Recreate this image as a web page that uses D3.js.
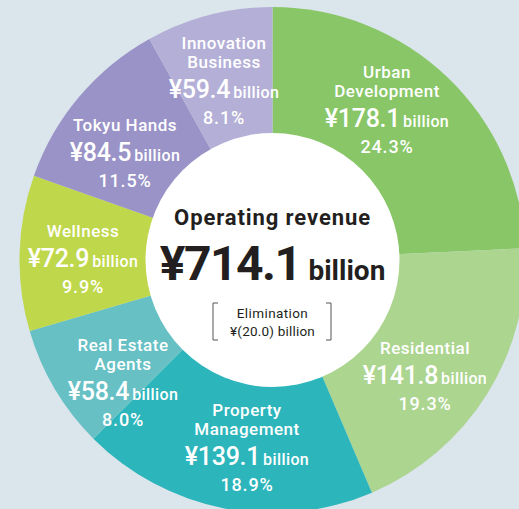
<!DOCTYPE html>
<html lang="en">
<head>
<meta charset="UTF-8">
<title>Operating revenue by segment</title>
<script src="https://d3js.org/d3.v7.min.js"></script>
<style>
    body { margin: 0; background: #dbe5ec; }
    svg { display: block; }
    .seg-label text { fill: #fff; font-family: Roboto, 'Noto Sans', sans-serif; font-weight: 500; text-anchor: middle; }
    .center text { fill: #231f20; font-family: Roboto, 'Noto Sans', sans-serif; text-anchor: middle; }
</style>
</head>
<body>
<script>
    // segments, clockwise from 12 o'clock
    const segments = ["Urban Development", "Residential", "Property Management", "Real Estate Agents", "Wellness", "Tokyu Hands", "Innovation Business"];
    const nameLines = [["Urban", "Development"], ["Residential"], ["Property", "Management"], ["Real Estate", "Agents"], ["Wellness"], ["Tokyu Hands"], ["Innovation", "Business"]];
    const revenue = [178.1, 141.8, 139.1, 58.4, 72.9, 84.5, 59.4];
    const shares = ["24.3%", "19.3%", "18.9%", "8.0%", "9.9%", "11.5%", "8.1%"];
    const colors = ["#88c667", "#acd590", "#2cb5bb", "#66c0c4", "#bfd74a", "#9a93c7", "#b4afd6"];
    const total = "714.1";
    const elimination = "(20.0)";

    // label anchor (x, y of the first line) per segment
    const labelPos = [[387, 78], [425, 354], [247, 416], [123, 351], [83, 237], [125, 131], [224, 49]];

    const W = 519, H = 509;
    const cx = 272.5, cy = 260, rOuter = 253, rInner = 127;

    const svg = d3.select("body").append("svg")
        .attr("width", W)
        .attr("height", H);

    svg.append("rect").attr("width", W).attr("height", H).attr("fill", "#dbe5ec");

    const pie = d3.pie().sort(null).value(d => d);
    const arc = d3.arc().innerRadius(0).outerRadius(rOuter);

    const g = svg.append("g").attr("transform", `translate(${cx},${cy})`);

    g.selectAll("path.slice")
        .data(pie(revenue))
        .join("path")
        .attr("class", "slice")
        .attr("fill", (d, i) => colors[i])
        .attr("d", arc);

    g.append("circle").attr("r", rInner).attr("fill", "#fff");

    // segment labels
    const labels = svg.selectAll("g.seg-label")
        .data(segments)
        .join("g")
        .attr("class", "seg-label")
        .attr("transform", (d, i) => `translate(${labelPos[i][0]},${labelPos[i][1]})`);

    labels.each(function(d, i) {
        const el = d3.select(this);
        const lines = nameLines[i];
        lines.forEach((t, j) => {
            el.append("text")
                .attr("y", j * 18.5)
                .attr("font-size", 17)
                .attr("letter-spacing", 0.5)
                .text(t);
        });
        const y0 = (lines.length - 1) * 18.5 + 30;
        const v = el.append("text").attr("y", y0);
        v.append("tspan").attr("font-size", 25).attr("letter-spacing", -0.3).text("¥" + revenue[i]);
        v.append("tspan").attr("font-size", 16).attr("dx", 3).attr("letter-spacing", 0.4).text("billion");
        el.append("text")
            .attr("y", y0 + 26)
            .attr("font-size", 18)
            .attr("letter-spacing", 0.8)
            .text(shares[i]);
    });

    // centre text
    const c = svg.append("g").attr("class", "center").attr("transform", `translate(${cx},0)`);
    c.append("text").attr("y", 225).attr("font-size", 22).attr("font-weight", 700)
        .attr("letter-spacing", 0.9).text("Operating revenue");
    const big = c.append("text").attr("y", 280).attr("font-weight", 700);
    big.append("tspan").attr("font-size", 48).attr("letter-spacing", -1.5).text("¥" + total);
    big.append("tspan").attr("font-size", 28).attr("dx", 8).text("billion");
    c.append("text").attr("y", 318).attr("font-size", 13.5).attr("letter-spacing", 0.4).attr("fill", "#333").text("Elimination");
    c.append("text").attr("y", 336).attr("font-size", 13.5).attr("letter-spacing", 0.2).attr("fill", "#333").text("¥" + elimination + " billion");

    // brackets
    const br = [[213, 1], [331, -1]];
    br.forEach(([x, s]) => {
        svg.append("path")
            .attr("d", `M${x + 5 * s},303 H${x} V340 H${x + 5 * s}`)
            .attr("fill", "none")
            .attr("stroke", "#555")
            .attr("stroke-width", 1);
    });
</script>
</body>
</html>
